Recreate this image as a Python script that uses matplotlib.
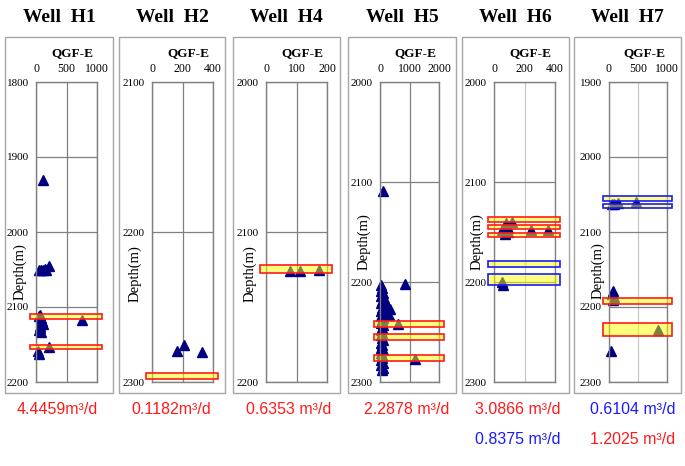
import matplotlib.pyplot as plt
import matplotlib.transforms as mtransforms
from matplotlib.patches import Rectangle

W, H = 685, 466

wells = ['H1', 'H2', 'H4', 'H5', 'H6', 'H7']

# depth axis range (top, bottom) and QGF-E axis max per well
depth_top = [1800, 2100, 2000, 2000, 2000, 1900]
depth_bot = [2200, 2300, 2200, 2300, 2300, 2300]
qgf_max = [1000, 400, 200, 2000, 400, 1000]

# QGF-E readings: depth (m) and intensity
h1_depth = [1931, 2045, 2050, 2050, 2051, 2049, 2051,
            2110, 2112, 2115, 2118, 2120, 2122, 2125, 2128, 2130, 2133, 2117,
            2153, 2158, 2162]
h1_qgf = [110, 215, 55, 85, 115, 140, 160,
          70, 55, 80, 100, 90, 120, 60, 70, 50, 75, 753,
          220, 40, 55]

h2_depth = [2279, 2275, 2280]
h2_qgf = [164, 208, 328]

h4_depth = [2126, 2126, 2125]
h4_qgf = [79, 111, 174]

h5_depth = [2109, 2202,
            2203, 2206, 2209, 2211, 2214, 2216, 2219, 2221, 2224, 2226, 2229,
            2231, 2234, 2236, 2238, 2241, 2243, 2246, 2248, 2251, 2253, 2256,
            2258, 2261, 2263, 2266, 2268, 2271, 2273, 2276, 2278, 2281, 2283,
            2286, 2288,
            2223, 2227, 2231, 2233, 2242, 2277]
h5_qgf = [90, 831,
          40, 70, 30, 90, 50, 120, 60, 40, 150, 80, 50,
          110, 30, 90, 60, 40, 100, 70, 30, 80, 50, 60,
          90, 40, 70, 50, 100, 30, 80, 60, 40, 90, 50,
          110, 70,
          250, 330, 220, 300, 596, 1191]

h6_depth = [2141, 2140, 2148, 2150, 2152, 2148, 2148, 2146, 2200, 2203]
h6_qgf = [80, 120, 55, 90, 75, 245, 355, 95, 55, 60]

h7_depth = [2062, 2063, 2061, 2060, 2178, 2182, 2187, 2190, 2231, 2258]
h7_qgf = [46, 86, 160, 474, 70, 55, 80, 65, 846, 34]

# tested intervals: (top, bottom, group) - group 'a' and 'b' are the two test sets
h1_bands = [(2109, 2116, 'a'), (2150, 2156, 'a')]
h2_bands = [(2294, 2298, 'a')]
h4_bands = [(2122, 2127, 'a')]
h5_bands = [(2239, 2245, 'a'), (2252, 2258, 'a'), (2273, 2279, 'a')]
h6_bands = [(2135, 2140, 'a'), (2143, 2147, 'a'), (2151, 2155, 'a'),
            (2179, 2185, 'b'), (2192, 2203, 'b')]
h7_bands = [(2052, 2058, 'b'), (2062, 2068, 'b'),
            (2188, 2196, 'a'), (2221, 2238, 'a')]

# production rates written below each well
h1_rates = [('4.4459m³/d', 'a')]
h2_rates = [('0.1182m³/d', 'a')]
h4_rates = [('0.6353 m³/d', 'a')]
h5_rates = [('2.2878 m³/d', 'a')]
h6_rates = [('3.0866 m³/d', 'a'), ('0.8375 m³/d', 'b')]
h7_rates = [('0.6104 m³/d', 'b'), ('1.2025 m³/d', 'a')]

depths = [h1_depth, h2_depth, h4_depth, h5_depth, h6_depth, h7_depth]
qgfs = [h1_qgf, h2_qgf, h4_qgf, h5_qgf, h6_qgf, h7_qgf]
bands = [h1_bands, h2_bands, h4_bands, h5_bands, h6_bands, h7_bands]
rates = [h1_rates, h2_rates, h4_rates, h5_rates, h6_rates, h7_rates]

# layout in pixels
plot_px = [(36, 97), (152, 213), (266, 327), (380, 439), (494, 555), (609, 667)]
box_px = [(5, 113), (119, 225), (233, 340), (348, 456), (462, 569), (574, 681)]
ylab_px = [(20, 272), (135, 274), (250, 274), (364, 242), (477, 242), (598, 271)]
rate_x = [57, 171, 289, 407, 518, 633]

group_col = {'a': '#ff1a1a', 'b': '#1a1aff'}
serif = 'Liberation Serif'

fig = plt.figure(figsize=(6.85, 4.66), dpi=100)


def fx(x):
    return x / W


def fy(y):
    return 1 - y / H


for i, w in enumerate(wells):
    x0, x1 = plot_px[i]
    bx0, bx1 = box_px[i]

    # outer frame of the panel
    fig.add_artist(Rectangle((fx(bx0), fy(393)), (bx1 - bx0) / W, 356 / H,
                             transform=fig.transFigure, fill=False,
                             ec='#a6a6a6', lw=1))
    fig.text(fx((bx0 + bx1) / 2), fy(18), 'Well  ' + w, ha='center',
             va='center', family=serif, weight='bold', fontsize=14)

    ax = fig.add_axes([fx(x0), fy(382), (x1 - x0) / W, 300 / H])
    ax.plot(qgfs[i], depths[i], '^', color='#000080', mec='#000080', ms=7,
            zorder=2, clip_on=False)

    tr = mtransforms.blended_transform_factory(ax.transAxes, ax.transData)
    for top, bot, g in bands[i]:
        ax.add_patch(Rectangle((-0.1, top), 1.18, bot - top, transform=tr,
                               fc=(1, 1, 0, 0.5), ec=group_col[g], lw=1.2,
                               zorder=3, clip_on=False))

    ax.set_xlim(0, qgf_max[i])
    ax.set_xticks([0, qgf_max[i] / 2, qgf_max[i]])
    ax.set_xticklabels(['0', str(qgf_max[i] // 2), str(qgf_max[i])])
    ax.set_ylim(depth_bot[i], depth_top[i])
    ax.set_yticks(range(depth_top[i], depth_bot[i] + 1, 100))
    ax.xaxis.tick_top()
    ax.tick_params(length=0, colors='black')
    ax.tick_params(axis='x', pad=5, labelsize=8.5)
    ax.tick_params(axis='y', pad=5, labelsize=8)
    for lab in ax.get_xticklabels() + ax.get_yticklabels():
        lab.set_family(serif)

    vcol = '#c8c8c8' if i >= 4 else '#808080'
    ax.xaxis.grid(True, color=vcol, lw=0.9)
    ax.yaxis.grid(True, color='#808080', lw=0.9)
    ax.set_axisbelow(True)
    for s in ax.spines.values():
        s.set_color('#808080')
        s.set_linewidth(1)

    fig.text(fx((x0 + x1) / 2 + 6), fy(53), 'QGF-E', ha='center', va='center',
             family=serif, weight='bold', fontsize=9.5)
    lx, ly = ylab_px[i]
    fig.text(fx(lx), fy(ly), 'Depth(m)', rotation=90, ha='center',
             va='center', family=serif, fontsize=10.5)

    for k, (txt, g) in enumerate(rates[i]):
        fig.text(fx(rate_x[i]), fy(410 + 30 * k), txt, ha='center',
                 va='center', color=group_col[g], fontsize=11.5,
                 family=['Liberation Sans Narrow', 'Liberation Sans'])

fig.savefig('out.png', dpi=100)
